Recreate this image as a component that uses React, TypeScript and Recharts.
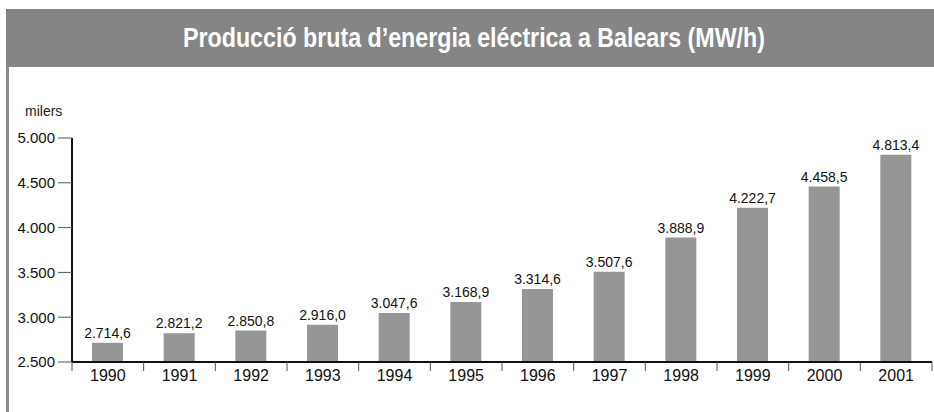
import React from 'react'
import { BarChart, Bar, XAxis, YAxis, LabelList } from 'recharts'

const years = ['1990', '1991', '1992', '1993', '1994', '1995', '1996', '1997', '1998', '1999', '2000', '2001']
const production = [2714.6, 2821.2, 2850.8, 2916.0, 3047.6, 3168.9, 3314.6, 3507.6, 3888.9, 4222.7, 4458.5, 4813.4]
const yTicks = [2500, 3000, 3500, 4000, 4500, 5000]

const data = years.map((year, i) => ({ year, value: production[i] }))

const AXIS_Y = 362
const PLOT_LEFT = 72
const PLOT_RIGHT = 932
const HALF_BAND = (PLOT_RIGHT - PLOT_LEFT) / years.length / 2
const FONT = '"Liberation Sans", Arial, sans-serif'

function groupThousands(s: string) {
  return s.replace(/\B(?=(\d{3})+(?!\d))/g, '.')
}

function fmtValue(v: number) {
  const [int, dec] = v.toFixed(1).split('.')
  return `${groupThousands(int)},${dec}`
}

function YearTick(props: any) {
  const { x, payload, index } = props
  return (
    <g>
      <line x1={x - HALF_BAND} x2={x - HALF_BAND} y1={AXIS_Y} y2={AXIS_Y + 9} stroke="#555" strokeWidth={1} />
      {index === years.length - 1 && (
        <line x1={x + HALF_BAND} x2={x + HALF_BAND} y1={AXIS_Y} y2={AXIS_Y + 9} stroke="#555" strokeWidth={1} />
      )}
      <text x={x} y={AXIS_Y + 19} textAnchor="middle" fontSize={16} fill="#111" fontFamily={FONT}>
        {payload.value}
      </text>
    </g>
  )
}

export default function App() {
  return (
    <div style={{ position: 'relative', width: 934, height: 412, background: '#fff', overflow: 'hidden' }}>
      <style>{`body{margin:0}`}</style>
      <div style={{ position: 'absolute', left: 6, top: 9, width: 928, height: 58, background: '#858585' }}>
        <div
          style={{
            position: 'absolute', left: 468 - 6 - 400, top: 0, width: 800, height: 58,
            display: 'flex', alignItems: 'center', justifyContent: 'center',
            color: '#fff', fontFamily: FONT, fontWeight: 'bold', fontSize: 27,
            transform: 'scaleX(0.86)', transformOrigin: '400px 50%', whiteSpace: 'nowrap',
            marginLeft: 6,
          }}
        >
          Producció bruta d’energia eléctrica a Balears (MW/h)
        </div>
      </div>
      <div style={{ position: 'absolute', left: 6, top: 67, width: 3, height: 345, background: '#8c8c8c' }} />
      <div style={{ position: 'absolute', left: 25, top: 103, fontFamily: FONT, fontSize: 14, color: '#222' }}>
        milers
      </div>
      <div style={{ position: 'absolute', left: 0, top: 0 }}>
        <BarChart
          width={934}
          height={412}
          data={data}
          margin={{ top: 138, right: 934 - PLOT_RIGHT, bottom: 412 - AXIS_Y - 30, left: PLOT_LEFT - 60 }}
          barSize={31}
        >
          <XAxis
            dataKey="year"
            height={30}
            axisLine={{ stroke: '#111', strokeWidth: 2 }}
            tickLine={false}
            tick={<YearTick />}
            interval={0}
          />
          <YAxis
            width={60}
            domain={[2500, 5000]}
            ticks={yTicks}
            allowDataOverflow
            axisLine={{ stroke: '#111', strokeWidth: 2 }}
            tickLine={{ stroke: '#555', strokeWidth: 1 }}
            tickSize={14}
            tickMargin={3}
            tickFormatter={(v: number) => groupThousands(String(v))}
            tick={{ fontSize: 15, fill: '#111', fontFamily: FONT }}
          />
          <Bar dataKey="value" fill="#969696" isAnimationActive={false}>
            <LabelList
              dataKey="value"
              position="top"
              offset={5}
              formatter={(v: any) => fmtValue(Number(v))}
              style={{ fontSize: 14, fill: '#111', fontFamily: FONT }}
            />
          </Bar>
        </BarChart>
      </div>
    </div>
  )
}
